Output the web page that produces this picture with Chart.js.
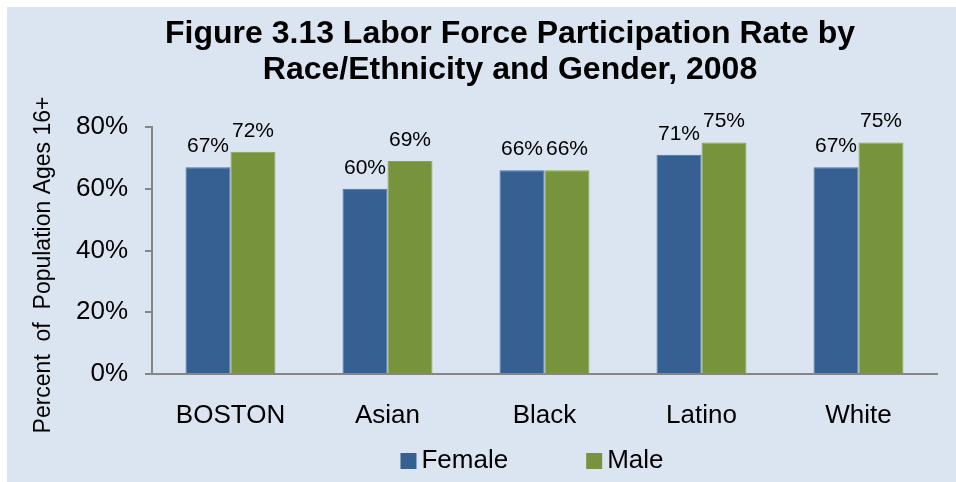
<!DOCTYPE html>
<html>
<head>
<meta charset="utf-8">
<title>Figure 3.13</title>
<script src="https://cdn.jsdelivr.net/npm/chart.js@4"></script>
<style>
    html{ background:#dbe5f1; }
    body{ margin:0; overflow:hidden; border-top:7px solid #ffffff; border-left:7px solid #ffffff; }
    #grafico{ display:block; }
</style>
</head>
<body>
<canvas id="grafico" width="949" height="475"></canvas>
<script>
const categorias = ['BOSTON', 'Asian', 'Black', 'Latino', 'White']
const female = [67, 60, 66, 71, 67]
const male = [72, 69, 66, 75, 75]
const ticksY = [0, 20, 40, 60, 80]
const tituloLineas = ['Figure 3.13 Labor Force Participation Rate by', 'Race/Ethnicity and Gender, 2008']
const tituloY = 'Percent  of  Population Ages 16+'

const fuente = 'Liberation Sans, Arial, sans-serif'
const gris = '#868686'

// fondo, titulo, titulo del eje, leyenda y etiquetas de valor
const extras = {
    id: 'extras',
    beforeDraw: (chart) => {
        const {ctx} = chart
        ctx.save()
        ctx.fillStyle = '#dbe5f1'
        ctx.fillRect(0, 0, chart.width, chart.height)
        ctx.restore()
    },
    afterDraw: (chart) => {
        const {ctx} = chart
        ctx.save()
        ctx.fillStyle = '#000000'

        // titulo
        ctx.font = 'bold 32px ' + fuente
        ctx.textAlign = 'center'
        ctx.textBaseline = 'alphabetic'
        tituloLineas.forEach((linea, i) => {
            ctx.fillText(linea, 503, 36 + i * 36)
        })

        // titulo eje y
        ctx.save()
        ctx.translate(43, 258)
        ctx.rotate(-Math.PI / 2)
        ctx.font = '23px ' + fuente
        ctx.textAlign = 'center'
        ctx.fillText(tituloY, 0, 0)
        ctx.restore()

        // etiquetas de valor
        ctx.font = '21px ' + fuente
        ctx.textAlign = 'center'
        chart.data.datasets.forEach((ds, i) => {
            const meta = chart.getDatasetMeta(i)
            meta.data.forEach((barra, j) => {
                ctx.fillText(ds.data[j] + '%', barra.x, barra.y - 15)
            })
        })

        // leyenda
        ctx.font = '26px ' + fuente
        ctx.textAlign = 'left'
        const caja = 16
        const sep = 5
        const entre = 78
        const items = chart.data.datasets.map(ds => ({
            texto: ds.label,
            color: ds.backgroundColor,
            ancho: caja + sep + ctx.measureText(ds.label).width
        }))
        let total = items.reduce((s, it) => s + it.ancho, 0) + entre * (items.length - 1)
        let x = 525 - total / 2
        items.forEach(it => {
            ctx.fillStyle = it.color
            ctx.fillRect(x, 446, caja, caja)
            ctx.fillStyle = '#000000'
            ctx.fillText(it.texto, x + caja + sep, 461)
            x += it.ancho + entre
        })
        ctx.restore()
    }
}

const contexto = document.getElementById('grafico').getContext('2d')
const grafico = new Chart(contexto, {
    type: 'bar',
    data: {
        labels: categorias,
        datasets: [
            {
                label: 'Female',
                data: female,
                backgroundColor: '#366092',
                borderColor: '#4a72a6',
                borderWidth: 1,
                categoryPercentage: 0.573,
                barPercentage: 1
            },
            {
                label: 'Male',
                data: male,
                backgroundColor: '#77933c',
                borderColor: '#8aa552',
                borderWidth: 1,
                categoryPercentage: 0.573,
                barPercentage: 1
            }
        ]
    },
    plugins: [extras],
    options: {
        responsive: false,
        animation: false,
        layout: {
            padding: {top: 120, right: 19, left: 0, bottom: 0}
        },
        plugins: {
            legend: {display: false},
            title: {display: false},
            tooltip: {enabled: false}
        },
        scales: {
            x: {
                afterFit: (scale) => { scale.height = 108 },
                grid: {display: false},
                border: {display: true, color: gris, width: 2},
                ticks: {
                    color: '#000000',
                    padding: 18,
                    font: {family: fuente, size: 26}
                }
            },
            y: {
                min: 0,
                max: 80,
                afterFit: (scale) => { scale.width = 145 },
                afterBuildTicks: (scale) => {
                    scale.ticks = ticksY.map(v => ({value: v}))
                },
                grid: {
                    drawOnChartArea: false,
                    drawTicks: true,
                    tickLength: 7,
                    color: gris,
                    lineWidth: 2
                },
                border: {display: true, color: gris, width: 2},
                ticks: {
                    color: '#000000',
                    padding: 17,
                    font: {family: fuente, size: 26},
                    callback: (v) => v + '%'
                }
            }
        }
    }
})
</script>
</body>
</html>
